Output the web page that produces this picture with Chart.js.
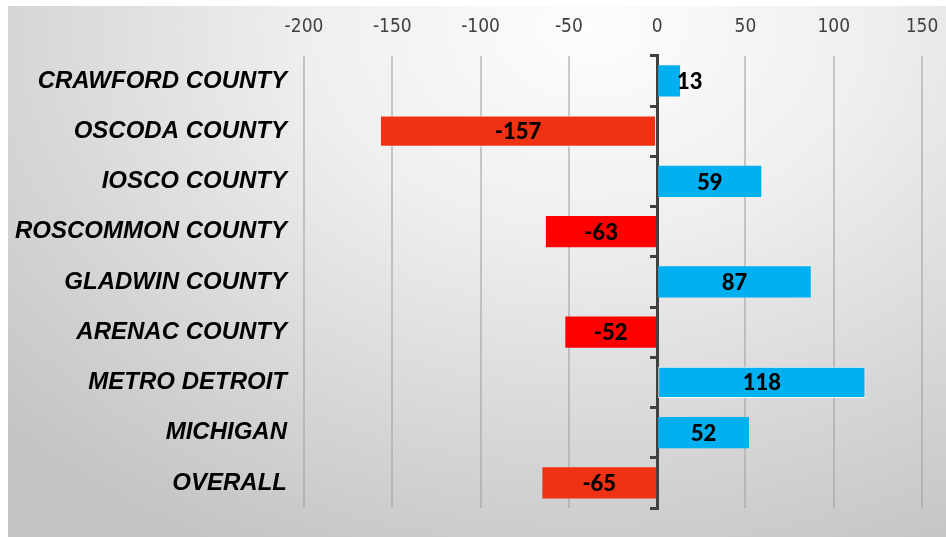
<!DOCTYPE html>
<html>
<head>
<meta charset="utf-8">
<script src="https://cdn.jsdelivr.net/npm/chart.js@4.4.1/dist/chart.umd.min.js"></script>
<style>
  html, body { margin: 0; padding: 0; background: #fff; }
  #wrap { position: relative; width: 946px; height: 537px; overflow: hidden; }
  #bg {
    position: absolute; left: 8px; top: 6px; right: 0; bottom: 0;
    background: radial-gradient(ellipse 85% 110% at 62% 4%, #fdfdfd 0%, #efefef 35%, #d6d6d6 72%, #c4c4c4 100%);
  }
  #myChart { position: absolute; left: 0; top: 0; }
</style>
</head>
<body>
<div id="wrap">
  <div id="bg"></div>
  <canvas id="myChart" width="946" height="537"></canvas>
</div>
<script>
const categorias = [
  "CRAWFORD COUNTY",
  "OSCODA COUNTY",
  "IOSCO COUNTY",
  "ROSCOMMON COUNTY",
  "GLADWIN COUNTY",
  "ARENAC COUNTY",
  "METRO DETROIT",
  "MICHIGAN",
  "OVERALL",
];
const valores = [13, -157, 59, -63, 87, -52, 118, 52, -65];
const ticksX = [-200, -150, -100, -50, 0, 50, 100, 150];

// colores de cada barra
const coloresBarras = ["#00b0f0", "#f03214", "#00b0f0", "#ff0000", "#00b0f0", "#ff0000", "#00b0f0", "#00b0f0", "#f03214"];
const bordesBarras = [0, 1, 0, 0, 0, 0, 1, 0, 0];

const etiquetas = {
  id: "etiquetas",
  afterDatasetsDraw(chart) {
    const ctx = chart.ctx;
    const meta = chart.getDatasetMeta(0);
    ctx.save();
    ctx.font = "900 22px Lato";
    ctx.fillStyle = "#000";
    ctx.textBaseline = "middle";
    meta.data.forEach((bar, i) => {
      const txt = String(valores[i]);
      const w = ctx.measureText(txt).width;
      const izq = Math.min(bar.x, bar.base);
      const der = Math.max(bar.x, bar.base);
      if (w + 6 > der - izq) {
        ctx.textAlign = "left";
        ctx.fillText(txt, der - 3, bar.y + 1);
      } else {
        ctx.textAlign = "center";
        ctx.fillText(txt, (izq + der) / 2, bar.y + 1);
      }
    });
    ctx.restore();
  },
};

const ctx = document.getElementById("myChart");

new Chart(ctx, {
  type: "bar",
  data: {
    labels: categorias,
    datasets: [
      {
        data: valores,
        backgroundColor: coloresBarras,
        borderColor: "rgba(255,255,255,0.8)",
        borderWidth: bordesBarras,
        borderSkipped: false,
        barPercentage: 0.62,
        categoryPercentage: 1,
        yAxisID: "y",
      },
    ],
  },
  options: {
    indexAxis: "y",
    responsive: false,
    animation: false,
    layout: { padding: { left: 8, right: 24, top: -1, bottom: 29 } },
    plugins: {
      legend: { display: false },
      tooltip: { enabled: false },
    },
    scales: {
      x: {
        position: "top",
        min: -200,
        max: 150,
        afterBuildTicks: (scale) => {
          scale.ticks = ticksX.map((v) => ({ value: v }));
        },
        afterFit: (scale) => {
          scale.paddingLeft = 0;
          scale.paddingRight = 0;
        },
        grid: { color: "rgba(160,160,160,0.55)", lineWidth: 2, drawTicks: false },
        border: { display: false },
        ticks: {
          padding: 17,
          color: "#404040",
          font: { family: "'Liberation Sans Narrow', 'DejaVu Sans Condensed'", size: 19 },
        },
      },
      y: {
        position: "left",
        afterFit: (scale) => {
          scale.width = 296;
        },
        grid: { display: false },
        border: { display: false },
        ticks: {
          padding: 9,
          color: "#000",
          font: { family: "'Liberation Sans'", size: 24, style: "italic", weight: "bold" },
        },
      },
      y2: {
        type: "category",
        axis: "y",
        position: { x: 0 },
        offset: true,
        grid: {
          offset: true,
          drawOnChartArea: false,
          color: "#404040",
          lineWidth: 3,
          tickLength: 6,
        },
        border: { color: "#404040", width: 3 },
        ticks: { display: false },
      },
    },
  },
  plugins: [etiquetas],
});
</script>
</body>
</html>
